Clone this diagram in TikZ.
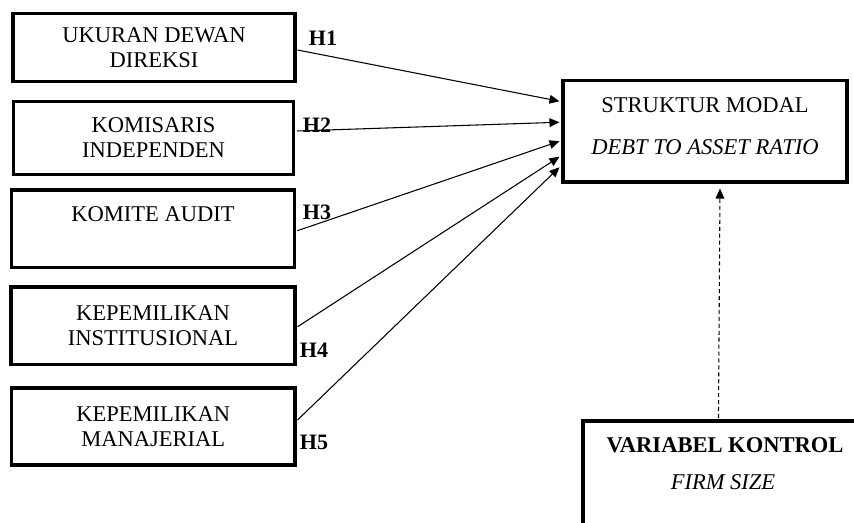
\documentclass[tikz,border=0pt]{standalone}
\usepackage{fontspec}
\setmainfont{Liberation Serif}
\usetikzlibrary{arrows.meta,calc}
\begin{document}
\begin{tikzpicture}[x=0.75pt,y=-0.75pt,
  every node/.style={font=\fontsize{16.9}{18.75}\selectfont},
  box/.style={draw, line width=2.3pt, align=center, inner sep=0pt},
  hlab/.style={font=\fontsize{16.5}{18.75}\selectfont\bfseries},
  conn/.style={line width=0.8pt, -{Triangle[length=7.5pt,width=6.5pt]}},
  ctrlconn/.style={line width=0.8pt, dash pattern=on 3pt off 2.2pt, -{Triangle[length=7.5pt,width=6.5pt]}}
]
\useasboundingbox (0,0) rectangle (854,523);
\clip (0,0) rectangle (854,523);

\node[box, minimum width=282*0.75pt, minimum height=68*0.75pt] (b1) at (154,47.5) {UKURAN DEWAN\\DIREKSI};
\node[box, minimum width=280*0.75pt, minimum height=73*0.75pt] (b2) at (153.5,138) {KOMISARIS\\INDEPENDEN};
\node[box, minimum width=283.5*0.75pt, minimum height=77.5*0.75pt] (b3) at (153,228.75) {KOMITE AUDIT\\[4pt]\mbox{}};
\node[box, minimum width=284*0.75pt, minimum height=77.5*0.75pt] (b4) at (153,325.75) {KEPEMILIKAN\\INSTITUSIONAL};
\node[box, minimum width=283.5*0.75pt, minimum height=77*0.75pt] (b5) at (153.25,426.5) {KEPEMILIKAN\\MANAJERIAL};

\node[box, minimum width=284*0.75pt, minimum height=101.5*0.75pt] (t) at (705,131.25) {STRUKTUR MODAL\\[12.5pt]\textit{DEBT TO ASSET RATIO}\\[-11pt]\mbox{}};

\node[box, minimum width=317*0.75pt, minimum height=179*0.75pt] (ctrl) at (741.5,510.5) {};
\node (ctrlA) at (725,445) {\bfseries VARIABEL KONTROL};
\node (ctrlB) at (723,482) {\itshape FIRM SIZE};

\node[hlab] (h1) at (323,38) {H1};
\node[hlab] (h2) at (317,125) {H2};
\node[hlab] (h3) at (317,212) {H3};
\node[hlab] (h4) at (314,350) {H4};
\node[hlab] (h5) at (314,442) {H5};

\draw[conn] ($(b1.east)+(1,2.5)$) -- ($(t.west)+(-2,-30)$);
\draw[conn] ($(b2.east)+(2,-7)$) -- ($(t.west)+(-2,-9)$);
\draw[conn] ($(b3.east)+(1,2)$) -- ($(t.west)+(-2,10)$);
\draw[conn] ($(b4.east)+(1,1)$) -- ($(t.west)+(-2,25.5)$);
\draw[conn] ($(b5.east)+(1,-6.5)$) -- ($(t.west)+(-2,36)$);

\draw[ctrlconn] ($(ctrl.north west)+(137,-1.5)$) -- ($(t.south)+(15,5)$);
\end{tikzpicture}
\end{document}
